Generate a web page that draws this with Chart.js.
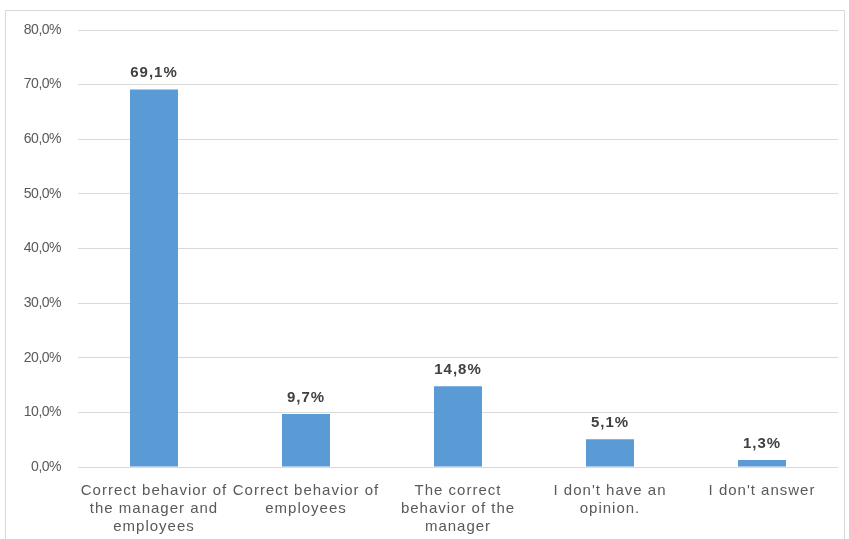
<!DOCTYPE html>
<html>
<head>
<meta charset="utf-8">
<script src="https://cdn.jsdelivr.net/npm/chart.js@4.4.1/dist/chart.umd.min.js"></script>
<style>
  html, body { margin: 0; padding: 0; background: #ffffff; }
  body { width: 849px; height: 539px; position: relative; overflow: hidden; }
  #frame { position: absolute; left: 5px; top: 10px; width: 840px; height: 560px; border: 1px solid #d9d9d9; box-sizing: border-box; }
  #wrap { position: absolute; left: 0; top: 0; width: 849px; height: 539px; }
</style>
</head>
<body>
<div id="frame"></div>
<div id="wrap"><canvas id="chart" width="849" height="539"></canvas></div>
<script>
// Survey answers and their shares (%)
const categories = [
  ["Correct behavior of", "the manager and", "employees"],
  ["Correct behavior of", "employees"],
  ["The correct", "behavior of the", "manager"],
  ["I don't have an", "opinion."],
  ["I don't answer"]
];
const shares = [69.1, 9.7, 14.8, 5.1, 1.3];
const yTicks = [0, 10, 20, 30, 40, 50, 60, 70, 80];

const fmt = v => v.toFixed(1).replace('.', ',') + '%';

// Category labels are set with slightly wider glyph spacing; value axis labels slightly tighter
const spacing = {
  id: 'spacing',
  beforeDraw(chart) {
    const y = chart.scales.y;
    if (y && !y._tightLabels) {
      const orig = y.drawLabels;
      y.drawLabels = function (area) {
        const ctx = this.ctx;
        const prev = ctx.letterSpacing;
        ctx.letterSpacing = '-0.5px';
        orig.call(this, area);
        ctx.letterSpacing = prev;
      };
      y._tightLabels = true;
    }
    chart.ctx.letterSpacing = '1px';
  },
  afterDraw(chart) { chart.ctx.letterSpacing = '0px'; }
};

// Value labels above each bar
const valueLabels = {
  id: 'valueLabels',
  afterDatasetsDraw(chart) {
    const ctx = chart.ctx;
    const meta = chart.getDatasetMeta(0);
    ctx.save();
    ctx.letterSpacing = '1px';
    ctx.font = 'bold 15px "Liberation Sans", Arial, sans-serif';
    ctx.fillStyle = '#404040';
    ctx.textAlign = 'center';
    ctx.textBaseline = 'bottom';
    meta.data.forEach((bar, i) => {
      ctx.fillText(fmt(shares[i]), bar.x, bar.y - 9);
    });
    ctx.restore();
  }
};

new Chart(document.getElementById('chart'), {
  type: 'bar',
  data: {
    labels: categories,
    datasets: [{
      data: shares,
      backgroundColor: '#5b9bd5',
      borderWidth: 0,
      categoryPercentage: 1,
      barPercentage: 0.316
    }]
  },
  options: {
    responsive: false,
    animation: false,
    layout: { padding: { top: 30, right: 11, bottom: 0, left: 0 } },
    plugins: { legend: { display: false }, tooltip: { enabled: false } },
    scales: {
      x: {
        grid: { display: false },
        border: { display: false },
        ticks: {
          color: '#595959',
          font: { family: '"Liberation Sans", Arial, sans-serif', size: 15, lineHeight: 1.2 },
          maxRotation: 0,
          autoSkip: false,
          padding: 7
        },
        afterFit(scale) { scale.height = 539 - 467; }
      },
      y: {
        min: 0,
        max: 80,
        afterBuildTicks(scale) { scale.ticks = yTicks.map(v => ({ value: v })); },
        grid: { color: '#d9d9d9', lineWidth: 1, drawTicks: false },
        border: { display: false },
        ticks: {
          color: '#595959',
          font: { family: '"Liberation Sans", Arial, sans-serif', size: 14 },
          padding: 17,
          callback: v => fmt(v)
        },
        afterFit(scale) { scale.width = 78; }
      }
    }
  },
  plugins: [spacing, valueLabels]
});
</script>
</body>
</html>
